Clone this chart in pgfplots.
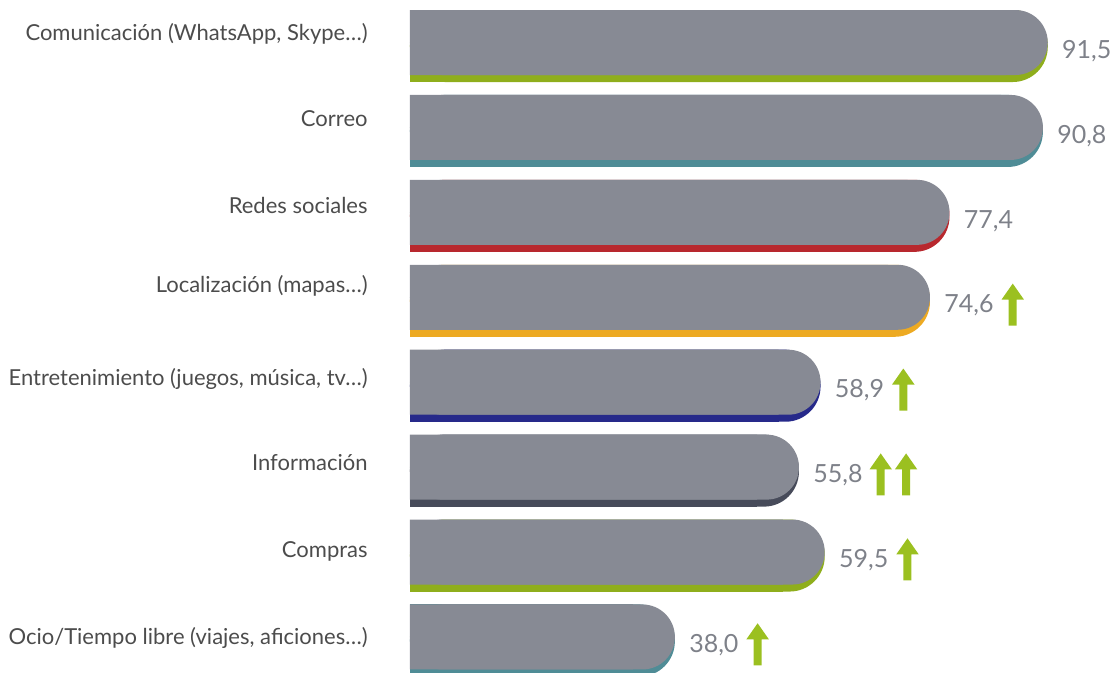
\documentclass[border=0pt]{standalone}
\usepackage{fontspec}
\setmainfont{Lato}
\usepackage{pgfplots}
\usepackage{pgfplotstable}
\pgfplotsset{compat=1.18}
\definecolor{barg}{HTML}{878A94}
\definecolor{cgreen}{HTML}{8FAE1C}
\definecolor{cteal}{HTML}{4F8C96}
\definecolor{cred}{HTML}{B8282E}
\definecolor{corange}{HTML}{EDAA22}
\definecolor{cnavy}{HTML}{26298A}
\definecolor{cslate}{HTML}{474B5A}
\definecolor{arrowg}{HTML}{9BC020}
\definecolor{labg}{HTML}{4C4C4C}
\definecolor{valg}{HTML}{7E8189}
\protected\def\up{\tikz[baseline=0pt,sharp corners]\fill[arrowg] (-2pt,-6.3pt) -- (2pt,-6.3pt) -- (2pt,6.7pt) -- (5.6pt,6.7pt) -- (0pt,14.7pt) -- (-5.6pt,6.7pt) -- (-2pt,6.7pt) -- cycle;}

\pgfplotstableread{
y v lab
8 91.5 {91,5}
7 90.8 {90,8}
6 77.4 {77,4}
5 74.6 {74,6\hspace{4pt}\up}
4 58.9 {58,9\hspace{4pt}\up}
3 55.8 {55,8\hspace{3.5pt}\up\hspace{1.5pt}\up}
2 59.5 {59,5\hspace{4pt}\up}
1 38.0 {38,0\hspace{4pt}\up}
}\bars

\pgfplotsset{
  strip/.style={xbar, bar shift=0pt, bar width=36pt, fill=#1, draw=none, rounded corners=17.5pt},
  stripsq/.style={xbar, bar shift=0pt, bar width=36pt, fill=#1, draw=none, sharp corners, x filter/.expression={x-6}},
}

\begin{document}
\begin{tikzpicture}
\begin{axis}[
  name=a,
  scale only axis, width=354.5pt, height=336.5pt,
  xmin=0, xmax=101.72, ymin=0.617, ymax=8.542,
  axis line style={draw=none},
  xtick=\empty,
  major tick length=0pt,
  ytick={1.042,2.072,3.090,4.091,5.192,6.122,7.147,8.159},
  yticklabels={{Ocio/Tiempo libre (viajes, aficiones…)},Compras,Información,{Entretenimiento (juegos, música, tv…)},{Localización (mapas…)},Redes sociales,Correo,{Comunicación (WhatsApp, Skype…)}},
  yticklabel style={anchor=base east, inner sep=0pt, xshift=-21pt, yshift=-3.9pt, text=labg, font=\fontsize{11}{13}\selectfont},
]
% coloured strips (rounded right end + square left part)
\addplot[strip=cgreen] coordinates {(91.5,8)};
\addplot[stripsq=cgreen] coordinates {(91.5,8)};
\addplot[strip=cteal] coordinates {(90.8,7)};
\addplot[stripsq=cteal] coordinates {(90.8,7)};
\addplot[strip=cred] coordinates {(77.4,6)};
\addplot[stripsq=cred] coordinates {(77.4,6)};
\addplot[strip=corange] coordinates {(74.6,5)};
\addplot[stripsq=corange] coordinates {(74.6,5)};
\addplot[strip=cnavy] coordinates {(58.9,4)};
\addplot[stripsq=cnavy] coordinates {(58.9,4)};
\addplot[strip=cslate] coordinates {(55.8,3)};
\addplot[stripsq=cslate] coordinates {(55.8,3)};
\addplot[strip=cgreen] coordinates {(59.5,2)};
\addplot[stripsq=cgreen] coordinates {(59.5,2)};
\addplot[strip=cteal] coordinates {(38.0,1)};
\addplot[stripsq=cteal] coordinates {(38.0,1)};
% grey bars
\addplot[xbar, bar shift=1.75pt, bar width=32.5pt, fill=barg, draw=none, sharp corners, x filter/.expression={x-6}]
  table[x=v, y=y] {\bars};
\addplot[xbar, bar shift=1.75pt, bar width=32.5pt, fill=barg, draw=none, rounded corners=16.2pt,
  nodes near coords, point meta=explicit symbolic,
  nodes near coords style={anchor=base west, inner sep=0pt, xshift=7pt, yshift=-6.1pt, text=valg, font=\fontsize{12.5}{14}\selectfont, sharp corners}]
  table[x=v, y=y, meta=lab] {\bars};
\end{axis}
\pgfresetboundingbox
\path ([xshift=-205pt]a.south west) rectangle (a.north east);
\end{tikzpicture}
\end{document}
